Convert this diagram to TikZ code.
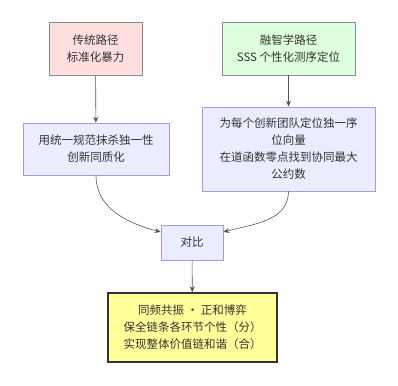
\documentclass[tikz,border=0pt]{standalone}
\usepackage{fontspec}
\setmainfont{Noto Sans CJK SC}
\usepackage{tikz}
\usetikzlibrary{arrows.meta, positioning, calc}
\definecolor{pathred}     {RGB}{255, 222, 222}
\definecolor{pathgreen}   {RGB}{221, 255, 221}
\definecolor{boxlav}      {RGB}{236, 236, 255}
\definecolor{boxlavedge}  {RGB}{170, 150, 225}
\definecolor{resyellow}   {RGB}{255, 255, 153}
\definecolor{edgegrey}    {RGB}{140, 140, 140}
\definecolor{txtdark}     {RGB}{ 51,  51,  51}

\begin{document}
\begin{tikzpicture}[x=1pt, y=-1pt,
		every node/.style={font=\fontsize{11.5}{17}\selectfont, text=txtdark, align=center, inner sep=0pt},
		pathbox/.style={draw=edgegrey, line width=0.7pt},
		lavbox/.style={draw=boxlavedge, fill=boxlav, line width=0.7pt},
		resbox/.style={draw=txtdark, fill=resyellow, line width=1.6pt},
		flow/.style={draw=txtdark!85, line width=0.6pt, -{Stealth[length=6pt,width=5pt]}}
	]
	\useasboundingbox (0,0) rectangle (398,385);
	% two starting paths
	\node[pathbox, fill=pathred, minimum width=93pt, minimum height=53pt] (trad) at (95.5,48.5) {传统路径\\标准化暴力};
	\node[pathbox, fill=pathgreen, minimum width=133pt, minimum height=53pt] (rzx) at (288.5,48.5) {融智学路径\\SSS 个性化测序定位};
	% what each path does
	\node[lavbox, minimum width=146pt, minimum height=52pt] (homog) at (96,149) {用统一规范抹杀独一性\\创新同质化};
	\node[lavbox, minimum width=173pt, minimum height=84pt] (locate) at (288.5,149) {为每个创新团队定位独一序\\位向量\\在道函数零点找到协同最大\\公约数};
	\node[lavbox, minimum width=62pt, minimum height=35pt] (cmp) at (192,242.5) {对比};
	\node[resbox, minimum width=169pt, minimum height=69pt] (res) at (192.5,327.5) {同频共振 · 正和博弈\\保全链条各环节个性（分）\\实现整体价值链和谐（合）};
	\draw[flow] (trad) -- (homog);
	\draw[flow] (rzx) -- (locate);
	\draw[flow] (homog.south) to[out=-90, in=165] (cmp.west |- 0,232);
	\draw[flow] (locate.south) to[out=-90, in=15] (cmp.east |- 0,232);
	\draw[flow] (cmp) -- (res);
\end{tikzpicture}
\end{document}
